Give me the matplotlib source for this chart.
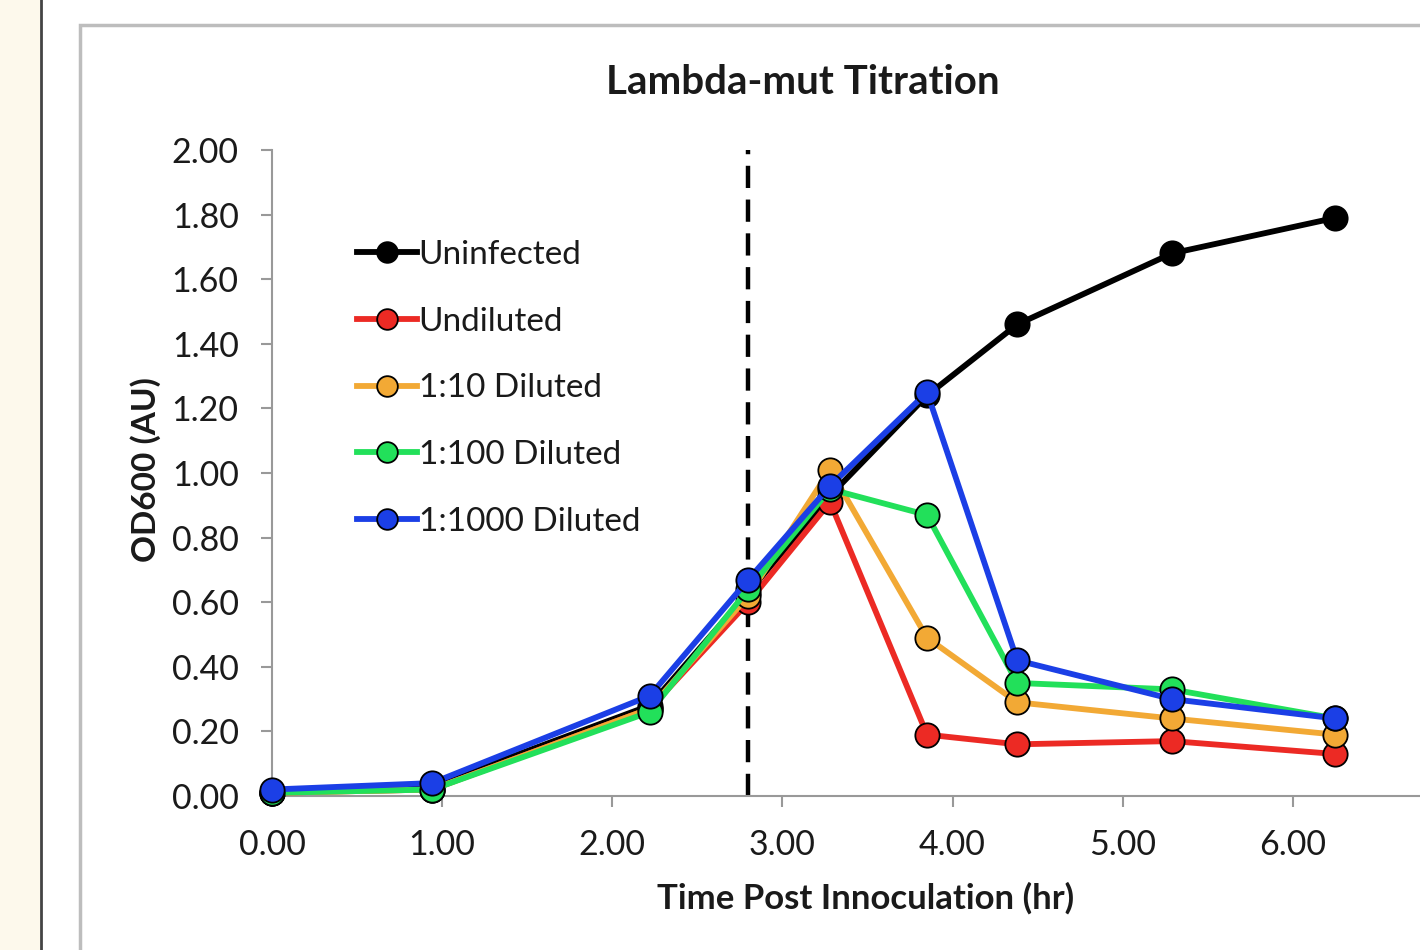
import matplotlib.pyplot as plt
from matplotlib.patches import Rectangle
from matplotlib.lines import Line2D

# time points (hr)
time = [0.00, 0.94, 2.22, 2.80, 3.28, 3.85, 4.38, 5.29, 6.25]

uninfected = [0.01, 0.03, 0.28, 0.63, 0.93, 1.24, 1.46, 1.68, 1.79]
undiluted = [0.01, 0.02, 0.27, 0.60, 0.91, 0.19, 0.16, 0.17, 0.13]
dil_10 = [0.01, 0.02, 0.27, 0.62, 1.01, 0.49, 0.29, 0.24, 0.19]
dil_100 = [0.01, 0.02, 0.26, 0.64, 0.95, 0.87, 0.35, 0.33, 0.24]
dil_1000 = [0.02, 0.04, 0.31, 0.67, 0.96, 1.25, 0.42, 0.30, 0.24]

labels = ["Uninfected", "Undiluted", "1:10 Diluted", "1:100 Diluted", "1:1000 Diluted"]
colors = ["#000000", "#ec2a24", "#f2a935", "#22e05a", "#1b3fe6"]
series = [uninfected, undiluted, dil_10, dil_100, dil_1000]

xticks = [0, 1, 2, 3, 4, 5, 6]
yticks = [0.0, 0.2, 0.4, 0.6, 0.8, 1.0, 1.2, 1.4, 1.6, 1.8, 2.0]
infect_time = 2.80

plt.rcParams['font.family'] = ['Lato', 'DejaVu Sans']

W, H = 1420, 950
fig = plt.figure(figsize=(W / 100, H / 100), dpi=100)
fig.patch.set_facecolor('white')

# page decorations
fig.patches.append(Rectangle((0, 0), 40 / W, 1, transform=fig.transFigure,
                             facecolor='#fdf9ec', edgecolor='none'))
fig.lines.append(Line2D([41 / W, 41 / W], [0, 1], transform=fig.transFigure,
                        color='#444444', lw=2))
fig.patches.append(Rectangle((80 / W, -0.1), 1.2, 1 - 25 / H + 0.1, transform=fig.transFigure,
                             facecolor='none', edgecolor='#bdbdbd', lw=2.5))

ax = fig.add_axes([272 / W, 1 - 796 / H, 1191 / W, 646 / H])
ax.set_xlim(0, 7)
ax.set_ylim(0, 2.0)

for ys, c, lab in zip(series, colors, labels):
    ax.plot(time, ys, color=c, lw=4.2, marker='o', ms=17.5, mfc=c,
            mec='black', mew=1.3, label=lab, clip_on=False, zorder=3)

ax.axvline(infect_time, ymin=0, ymax=1.0, color='black', lw=3.2, ls=(0, (5, 2.6)), zorder=2)

ax.set_xticks(xticks)
ax.set_xticklabels([f"{v:.2f}" for v in xticks])
ax.set_yticks(yticks)
ax.set_yticklabels([f"{v:.2f}" for v in yticks])
ax.tick_params(axis='both', labelsize=24.5, color='#999999', length=8, width=1.5,
               labelcolor='#1a1a1a', pad=16)

for s in ['top', 'right']:
    ax.spines[s].set_visible(False)
for s in ['left', 'bottom']:
    ax.spines[s].set_color('#999999')
    ax.spines[s].set_linewidth(1.5)

fig.text(803 / W, 1 - 82 / H, "Lambda-mut Titration", ha='center', va='center',
         fontsize=29, fontweight='bold', color='#1a1a1a')
fig.text(866 / W, 1 - 898 / H, "Time Post Innoculation (hr)", ha='center', va='center',
         fontsize=25, fontweight='bold', color='#1a1a1a')
fig.text(146 / W, 1 - 470 / H, "OD600 (AU)", ha='center', va='center', rotation=90,
         fontsize=24, fontweight='bold', color='#1a1a1a')

leg = ax.legend(loc='upper left', bbox_to_anchor=(357 / W, 1 - 240 / H),
                bbox_transform=fig.transFigure, frameon=False, fontsize=24,
                handlelength=1.8, handletextpad=0.05, labelspacing=1.1,
                borderpad=0, borderaxespad=0, markerscale=0.85)
for t in leg.get_texts():
    t.set_color('#1a1a1a')

fig.savefig("out.png", dpi=100)
